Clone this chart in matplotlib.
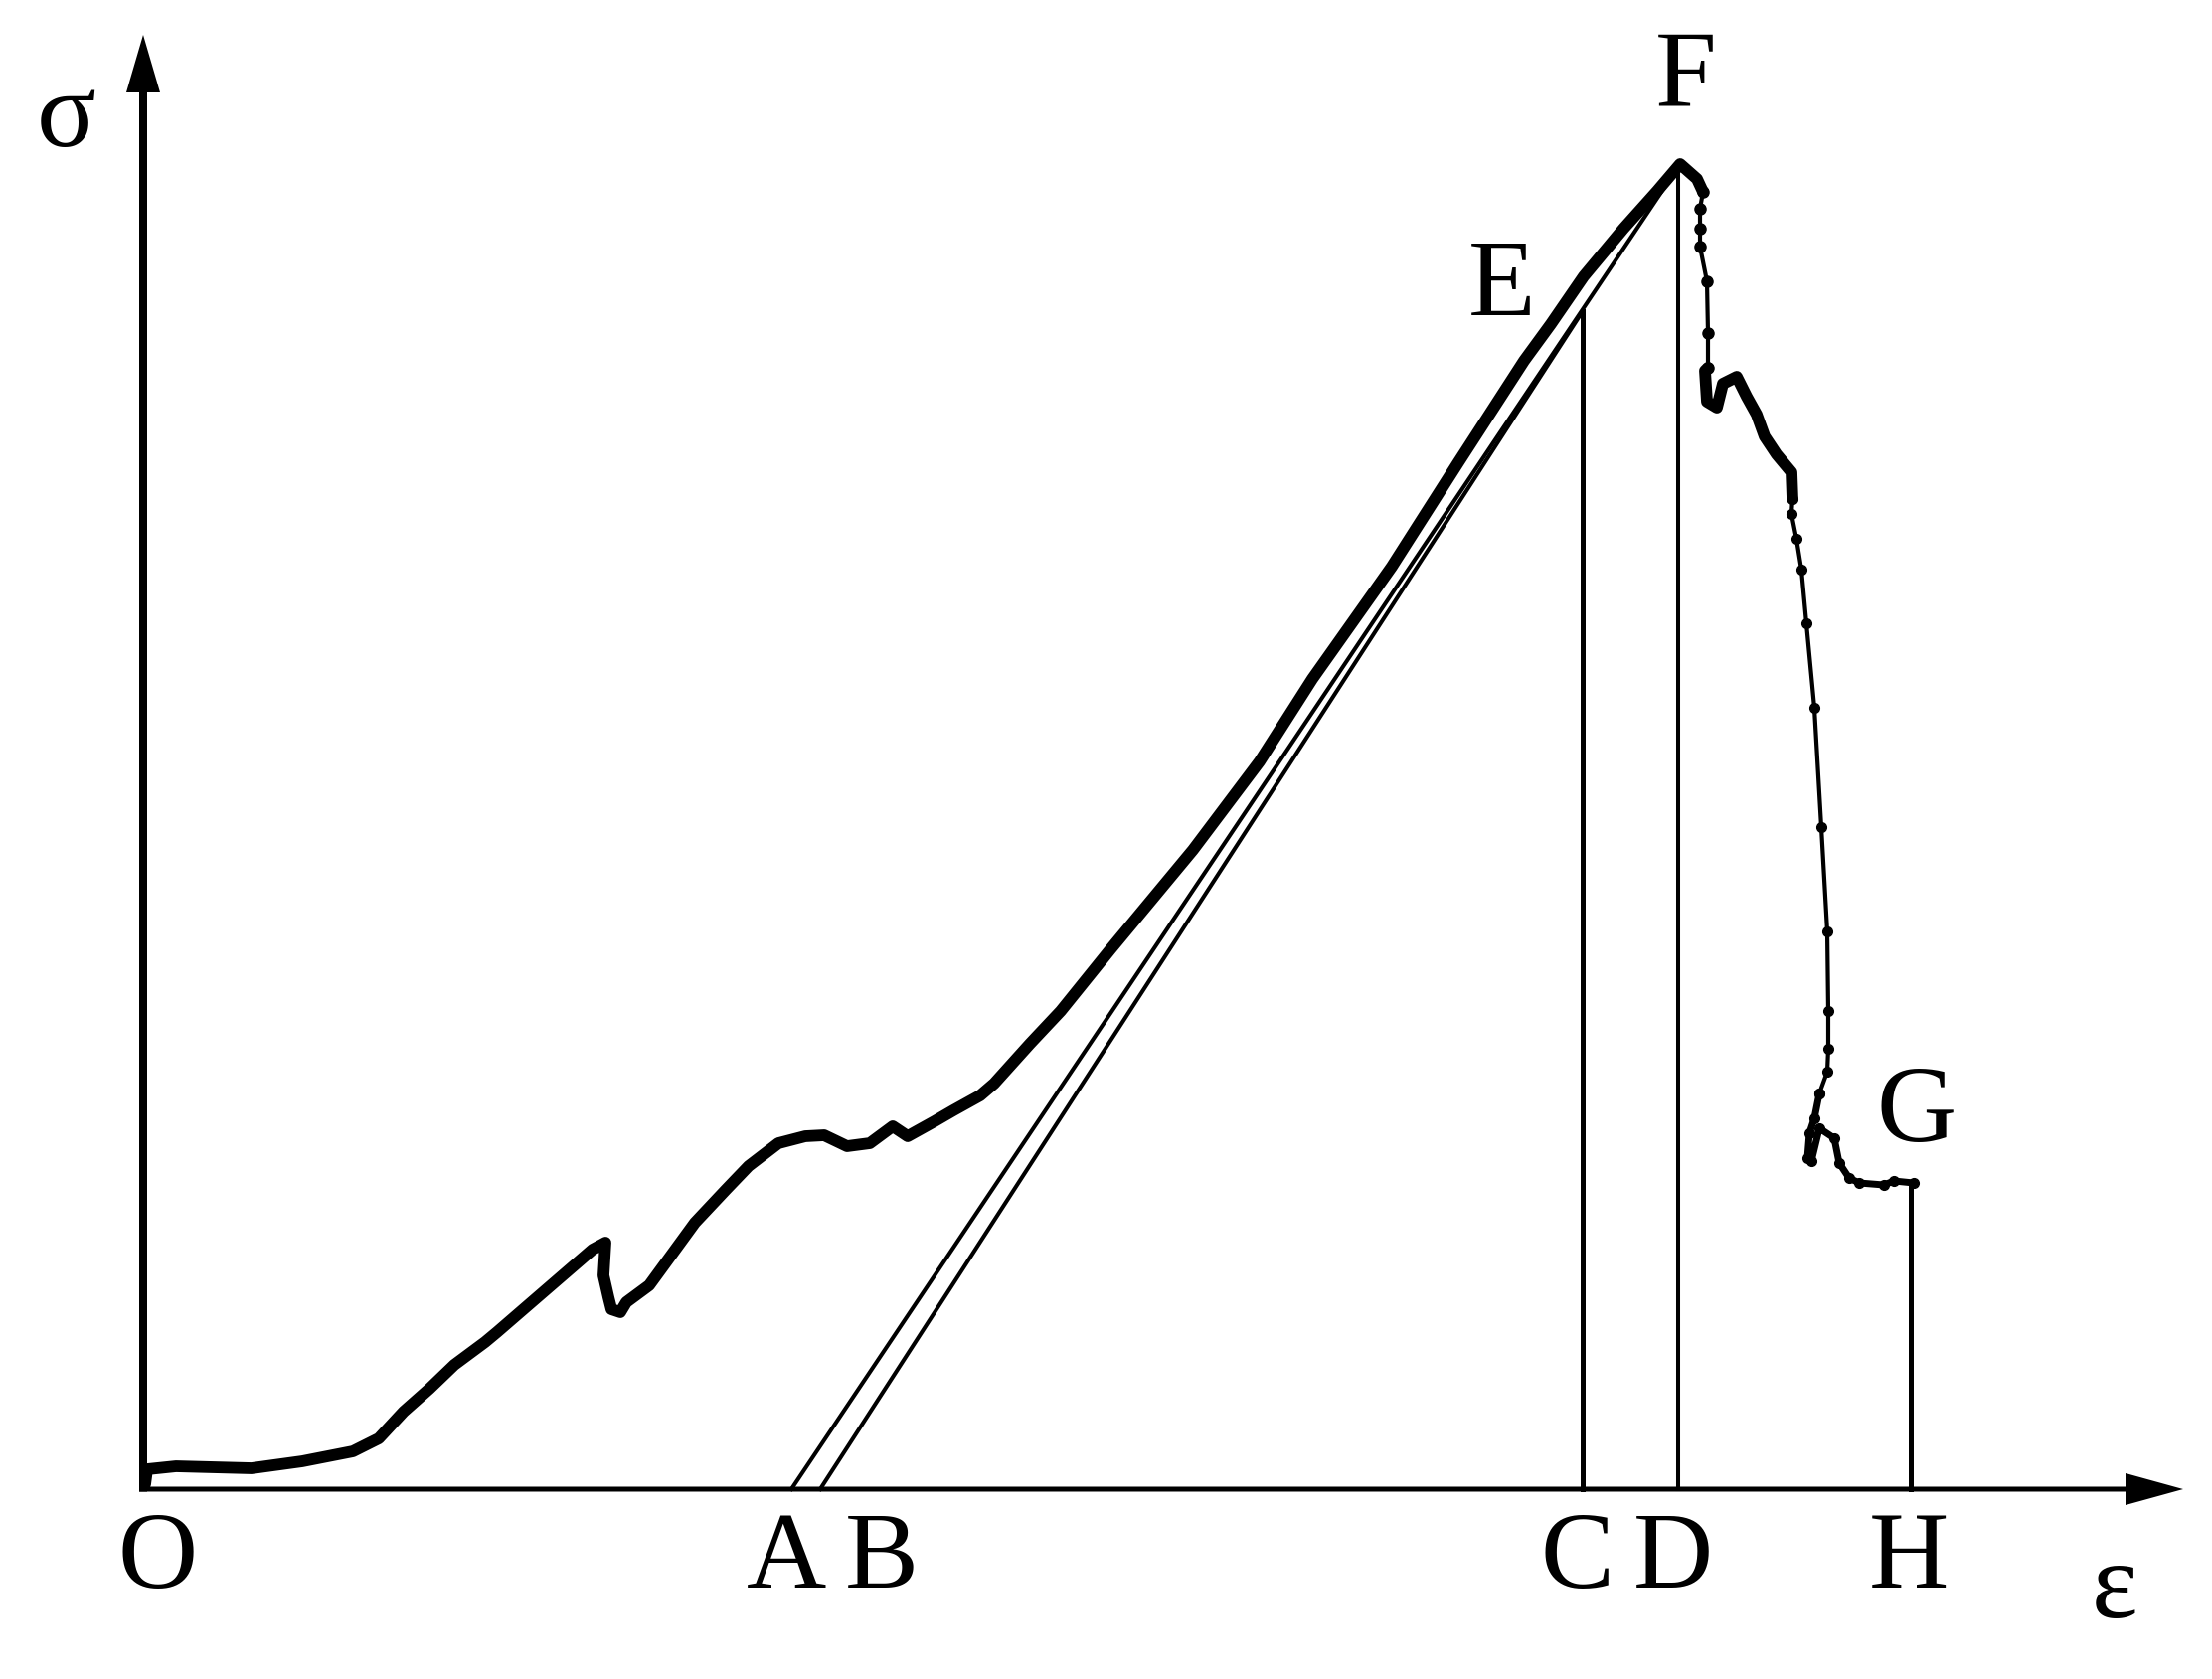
import matplotlib
matplotlib.use('Agg')
import matplotlib.pyplot as plt

# stress-strain record (arbitrary units)
eps_main = [2, 4, 33, 109, 160, 211, 237, 262, 288, 313, 344, 356, 452, 465, 463, 468,
            471, 480, 486, 509, 528, 555, 586, 609, 639, 666, 685, 708, 731, 754, 769,
            796, 815, 842, 856, 892, 923, 973, 1056, 1123, 1176, 1256, 1323, 1389, 1416,
            1449, 1489, 1523, 1546, 1563, 1569]
sig_main = [5, 20, 23, 21, 28, 38, 51, 78, 101, 125, 148, 158, 241, 248, 215, 193,
            181, 178, 188, 205, 231, 268, 301, 325, 348, 355, 356, 345, 348, 365, 355,
            370, 381, 396, 408, 448, 481, 543, 643, 732, 815, 928, 1033, 1135, 1172,
            1220, 1268, 1306, 1333, 1318, 1305]

eps_drop1 = [1569, 1566, 1566, 1566, 1573, 1574, 1574]
sig_drop1 = [1305, 1288, 1268, 1250, 1215, 1163, 1128]

eps_mid = [1574, 1571, 1573, 1583, 1589, 1603, 1613, 1623, 1631, 1643, 1658, 1659]
sig_mid = [1128, 1125, 1094, 1088, 1112, 1119, 1099, 1081, 1059, 1041, 1023, 996]

eps_drop2 = [1659, 1658, 1663, 1668, 1673, 1681, 1688, 1694, 1695, 1695, 1694, 1686]
sig_drop2 = [996, 981, 956, 925, 871, 786, 666, 561, 481, 443, 420, 398]

eps_tail = [1686, 1681, 1676, 1674, 1678, 1686, 1701, 1706, 1716, 1726, 1751, 1761, 1781]
sig_tail = [398, 373, 358, 333, 330, 363, 353, 328, 313, 308, 306, 310, 308]

# unloading lines (from A and B on the strain axis)
unload_eps0 = [652, 681]
unload_eps1 = [1546, 1448]
unload_sig1 = [1333, 1185]

# projections C, D, H
proj_eps = [1448, 1544, 1778]
proj_sig = [1185, 1333, 308]
proj_lw = [3.6, 2.9, 3.6]

axis_labels = ['O', 'A', 'B', 'C', 'D', 'H']
axis_label_x = [15, 647, 743, 1443, 1539, 1776]
point_labels = ['E', 'F', 'G']
point_label_xy = [(1367, 1181), (1552, 1392), (1784, 350)]

fig = plt.figure(figsize=(22.25, 16.89), dpi=100)
ax = fig.add_axes([0, 0, 1, 1])
ax.set_xlim(-144, 2081)
ax.set_ylim(-191, 1498)
ax.axis('off')

font = dict(family='Liberation Serif', fontsize=80, color='k')

# axes with arrows
ax.arrow(0, -2.5, 0, 1465.5, width=8, head_width=34, head_length=58,
         length_includes_head=True, fc='k', ec='none')
ax.arrow(-4, 0, 2056, 0, width=5, head_width=32, head_length=58,
         length_includes_head=True, fc='k', ec='none')

for x0, x1, y1 in zip(unload_eps0, unload_eps1, unload_sig1):
    ax.plot([x0, x1], [0, y1], color='k', lw=2.9)

for x, y, w in zip(proj_eps, proj_sig, proj_lw):
    ax.plot([x, x], [0, y], color='k', lw=w)

ax.plot(eps_main, sig_main, color='k', lw=8.5, solid_joinstyle='round',
        solid_capstyle='round')
ax.plot(eps_drop1, sig_drop1, color='k', lw=3, marker='o', ms=8)
ax.plot(eps_mid, sig_mid, color='k', lw=8.5, solid_joinstyle='round',
        solid_capstyle='round')
ax.plot(eps_drop2, sig_drop2, color='k', lw=3, marker='o', ms=7)
ax.plot(eps_tail, sig_tail, color='k', lw=5, marker='o', ms=7,
        solid_joinstyle='round')

for lab, x in zip(axis_labels, axis_label_x):
    ax.text(x, -99, lab, ha='center', va='baseline', **font)
for lab, (x, y) in zip(point_labels, point_label_xy):
    ax.text(x, y, lab, ha='center', va='baseline', **font)

ax.text(-77, 1351, 'σ', ha='center', va='baseline', **font)
ax.text(1983, -129, 'ε', ha='center', va='baseline', **font)

fig.savefig('out.png', dpi=100, facecolor='white')
